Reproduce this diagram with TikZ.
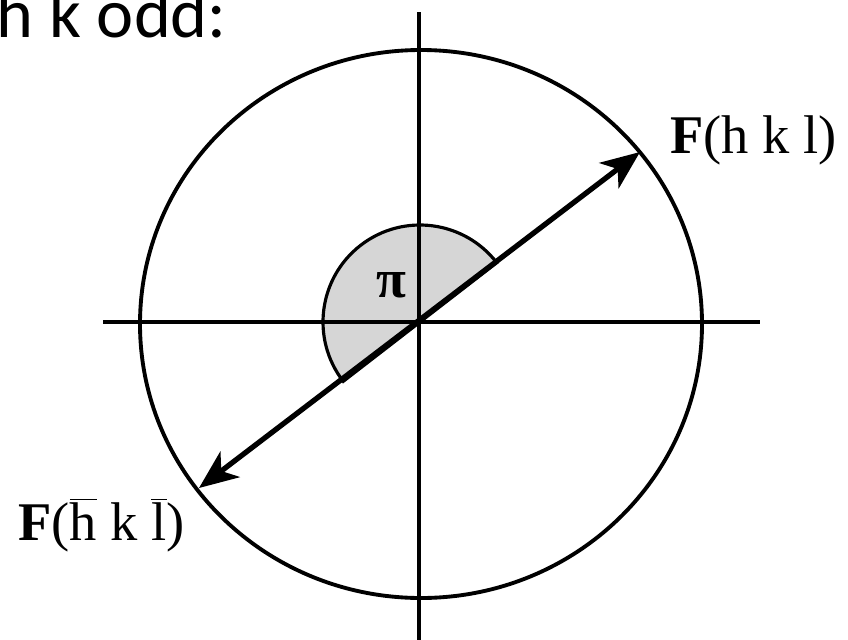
\documentclass[tikz,border=0pt]{standalone}
\usepackage{fontspec}
\setmainfont{Liberation Serif}
\newfontfamily\slidefont{Carlito}
\usetikzlibrary{arrows.meta}

\tikzset{
  axisline/.style={line width=2.2pt},
  vecline/.style={line width=3pt, {Stealth[length=0.78cm, width=0.64cm, inset=0.22cm]}-{Stealth[length=0.78cm, width=0.64cm, inset=0.22cm]}},
  label/.style={anchor=base west, inner sep=0pt, font=\fontsize{31}{36}\selectfont}
}

\begin{document}
\begin{tikzpicture}[x=0.02cm, y=-0.02cm]

  % picture in pixel units, origin top left
  \useasboundingbox (0,0) rectangle (848,639);

  \def\phase{37.7}
  \def\rad{97}

  \coordinate (O) at (420,322);
  \coordinate (left) at (103,322);
  \coordinate (right) at (760,322);
  \coordinate (top) at (419,12);
  \coordinate (bottom) at (419,645);
  \coordinate (Fp) at (640,152);
  \coordinate (Fm) at (199,488);

  % shaded half disc: the phase difference
  \filldraw[black!16, draw=black, line width=1.8pt]
    (O) -- ++(-\phase:\rad) arc[start angle=-\phase, end angle=-\phase-180, radius=\rad] -- cycle;

  % axes and circle
  \draw[axisline] (left) -- (right);
  \draw[axisline] (top) -- (bottom);
  \draw[axisline] (421,324) circle[x radius=281, y radius=274];

  % Friedel pair
  \draw[vecline] (Fm) -- (Fp);

  \node[font=\bfseries\fontsize{31}{36}\selectfont] (phi) at (391,285) {π};
  \node[label] (lp) at (670,153) {\textbf{F}(h k l)};
  \node[label] (lm) at (18,540) {\textbf{F}($\overline{\mbox{h}}$ k $\overline{\mbox{l}}$)};
  \node[anchor=base west, inner sep=0pt, font=\slidefont\fontsize{40}{46}\selectfont] (title) at (-4,37) {h k odd:};

\end{tikzpicture}
\end{document}
